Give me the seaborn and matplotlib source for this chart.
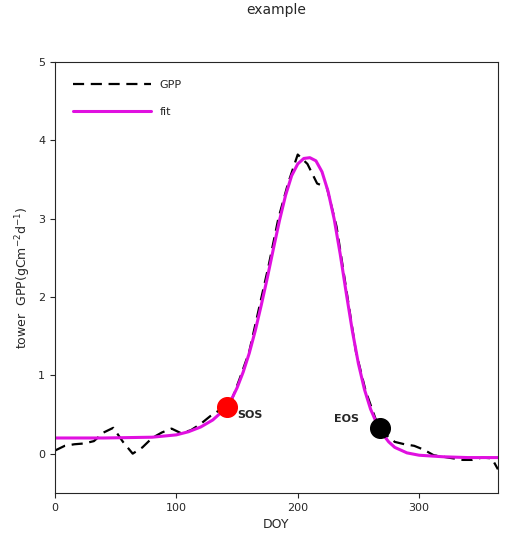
import matplotlib
matplotlib.use("Agg")
import matplotlib.pyplot as plt
import seaborn as sns
import pandas as pd

gpp_doy = [0, 8, 16, 24, 32, 40, 48, 56, 64, 72, 80, 88, 96, 104, 112, 120, 128, 136, 144, 152, 160, 168, 176, 184, 192, 200, 208, 216, 224, 232, 240, 248, 256, 264, 272, 280, 288, 296, 304, 312, 320, 328, 336, 344, 352, 360, 365]
gpp_val = [0.04, 0.1, 0.12, 0.13, 0.16, 0.27, 0.33, 0.15, 0.0, 0.08, 0.2, 0.27, 0.32, 0.26, 0.3, 0.38, 0.48, 0.56, 0.62, 0.95, 1.3, 1.85, 2.4, 3.0, 3.45, 3.82, 3.7, 3.45, 3.4, 2.9, 2.1, 1.3, 0.8, 0.45, 0.25, 0.15, 0.12, 0.1, 0.05, -0.02, -0.04, -0.06, -0.08, -0.08, -0.05, -0.06, -0.2]
fit_doy = [0, 40, 80, 100, 110, 120, 130, 140, 145, 150, 155, 160, 165, 170, 175, 180, 185, 190, 195, 200, 205, 210, 215, 220, 225, 230, 235, 240, 245, 250, 255, 260, 265, 270, 275, 280, 290, 300, 320, 340, 365]
fit_val = [0.2, 0.2, 0.21, 0.24, 0.28, 0.34, 0.43, 0.57, 0.68, 0.84, 1.04, 1.28, 1.57, 1.9, 2.25, 2.62, 2.98, 3.3, 3.55, 3.7, 3.77, 3.78, 3.74, 3.6, 3.35, 3.0, 2.55, 2.05, 1.57, 1.15, 0.82, 0.57, 0.39, 0.25, 0.15, 0.08, 0.01, -0.02, -0.04, -0.05, -0.05]
sos = (142, 0.6)
eos = (268, 0.33)

sns.set_style("ticks")
fig = plt.figure(figsize=(5.05, 5.5), dpi=100)
ax = fig.add_axes([0.109, 0.104, 0.877, 0.783])
sns.lineplot(data=pd.DataFrame({"x": gpp_doy, "y": gpp_val}), x="x", y="y", ax=ax,
             color="black", linestyle=(0, (5, 3)), lw=1.6, label="GPP")
sns.lineplot(data=pd.DataFrame({"x": fit_doy, "y": fit_val}), x="x", y="y", ax=ax,
             color="#e010e0", lw=2.2, label="fit")
ax.scatter([sos[0]], [sos[1]], s=200, color="red", zorder=5)
ax.scatter([eos[0]], [eos[1]], s=200, color="black", zorder=5)
ax.text(sos[0] + 8, sos[1] - 0.15, "SOS", fontsize=8, fontweight="bold")
ax.text(eos[0] - 38, eos[1] + 0.07, "EOS", fontsize=8, fontweight="bold")
ax.set_xlim(0, 365)
ax.set_ylim(-0.5, 5)
ax.set_xticks([0, 100, 200, 300])
ax.set_yticks([0, 1, 2, 3, 4, 5])
ax.tick_params(labelsize=8)
ax.set_xlabel("DOY", fontsize=9)
ax.set_ylabel("tower  GPP(gCm$^{-2}$d$^{-1}$)", fontsize=9)
ax.set_title("example", fontsize=10, pad=35)
leg = ax.legend(loc="upper left", frameon=False, fontsize=8, handlelength=7, borderaxespad=1.2, labelspacing=1.5)
fig.savefig("out.png", dpi=100)
